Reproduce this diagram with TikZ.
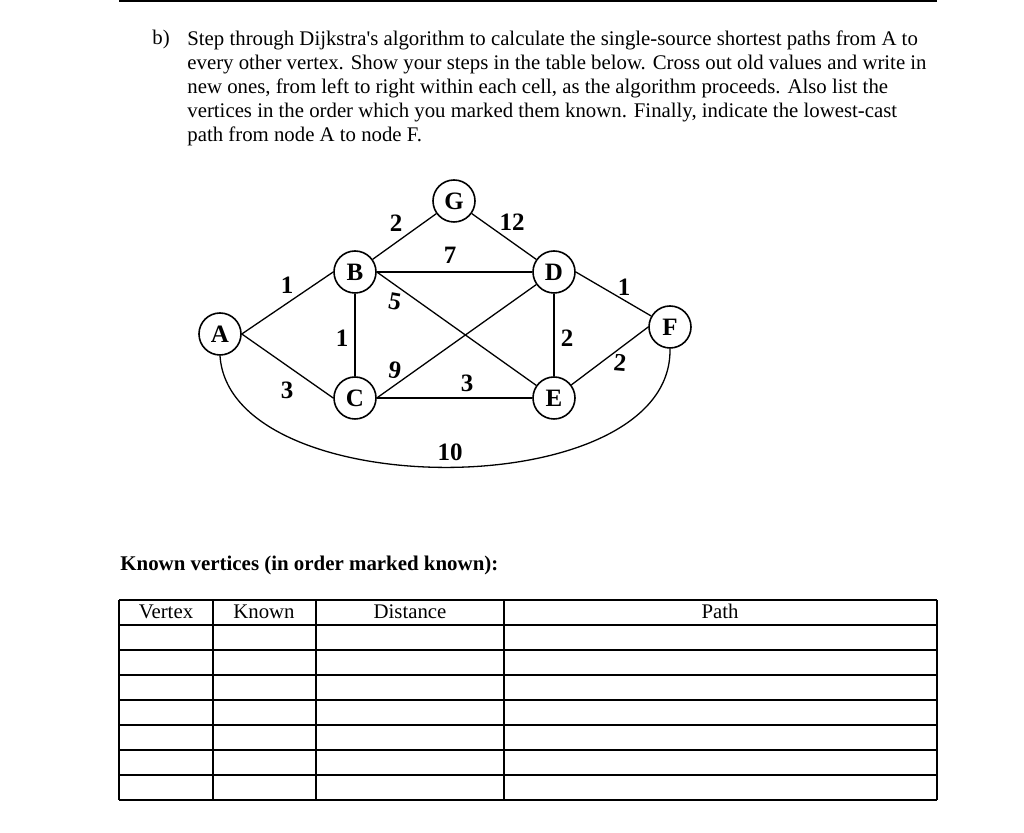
\documentclass[tikz,border=0pt]{standalone}
\usepackage{fontspec}
\setmainfont{Liberation Serif}

\tikzset{
  vertex/.style={draw, circle, line width=0.8pt, minimum size=21pt, inner sep=0pt,
    font=\fontsize{12.5}{12.5}\selectfont\bfseries},
  weight/.style={inner sep=0pt, font=\fontsize{12.5}{12.5}\selectfont\bfseries},
  edge/.style={line width=0.65pt},
  plain/.style={inner sep=0pt, font=\fontsize{10.4}{12}\selectfont},
}

\begin{document}
\begin{tikzpicture}[x=0.5pt,y=0.5pt]
  \useasboundingbox (0,0) rectangle (1024,833);
  \draw[line width=1pt] (119,832) -- (937,832);

  % question
  \node[plain, anchor=north west] (qlabel) at (152,803) {b)};
  \node[plain, anchor=north west, align=left] (qtext) at (187,803)
    {Step through Dijkstra\textquotesingle s algorithm to calculate the single-source shortest paths from A to\\
     every other vertex. Show your steps in the table below. Cross out old values and write in\\
     new ones, from left to right within each cell, as the algorithm proceeds. Also list the\\
     vertices in the order which you marked them known. Finally, indicate the lowest-cast\\
     path from node A to node F.};

  % graph
  \node[vertex] (A) at (220,499) {A};
  \node[vertex] (B) at (355,561) {B};
  \node[vertex] (C) at (355,435) {C};
  \node[vertex] (G) at (454,632) {G};
  \node[vertex] (D) at (554,561) {D};
  \node[vertex] (E) at (554,435) {E};
  \node[vertex] (F) at (670,506) {F};

  \draw[edge] (A.east) -- (B.west);
  \draw[edge] (A.east) -- (C.west);
  \draw[edge] (B) -- (C);
  \draw[edge] (B) -- (G);
  \draw[edge] (G) -- (D);
  \draw[edge] (B) -- (D);
  \draw[edge] (B.east) -- (E);
  \draw[edge] (C.east) -- (D);
  \draw[edge] (C) -- (E);
  \draw[edge] (D) -- (E);
  \draw[edge] (D.east) -- (F);
  \draw[edge] (E) -- (F.west);
  \draw[edge] (A.south) .. controls +(10,-150) and +(3,-157) .. (F.south);

  \node[weight] (wAB) at (287,548) {1};
  \node[weight] (wAC) at (287,443) {3};
  \node[weight] (wBC) at (342,495) {1};
  \node[weight] (wBG) at (396,610) {2};
  \node[weight] (wGD) at (512,611) {12};
  \node[weight] (wBD) at (450,578) {7};
  \node[weight, rotate=-10] (wBE) at (395,531) {5};
  \node[weight, rotate=-8] (wCD) at (395,463) {9};
  \node[weight] (wCE) at (467,450) {3};
  \node[weight] (wDE) at (567,495) {2};
  \node[weight] (wDF) at (624,546) {1};
  \node[weight, rotate=-5] (wEF) at (620,470) {2};
  \node[weight] (wAF) at (450,381) {10};

  % table
  \node[plain, anchor=base west, font=\fontsize{10.45}{12}\selectfont\bfseries] (known) at (120,262)
    {Known vertices (in order marked known):};
  \foreach \r in {0,...,8}
    \draw[line width=0.6pt] (119,233-25*\r) -- (937,233-25*\r);
  \foreach \c in {119,213,316,504,937}
    \draw[line width=0.6pt] (\c,233) -- (\c,33);
  \node[plain, anchor=base] (hvertex) at (166,214) {Vertex};
  \node[plain, anchor=base] (hknown) at (264,214) {Known};
  \node[plain, anchor=base] (hdist) at (410,214) {Distance};
  \node[plain, anchor=base] (hpath) at (720,214) {Path};
\end{tikzpicture}
\end{document}
